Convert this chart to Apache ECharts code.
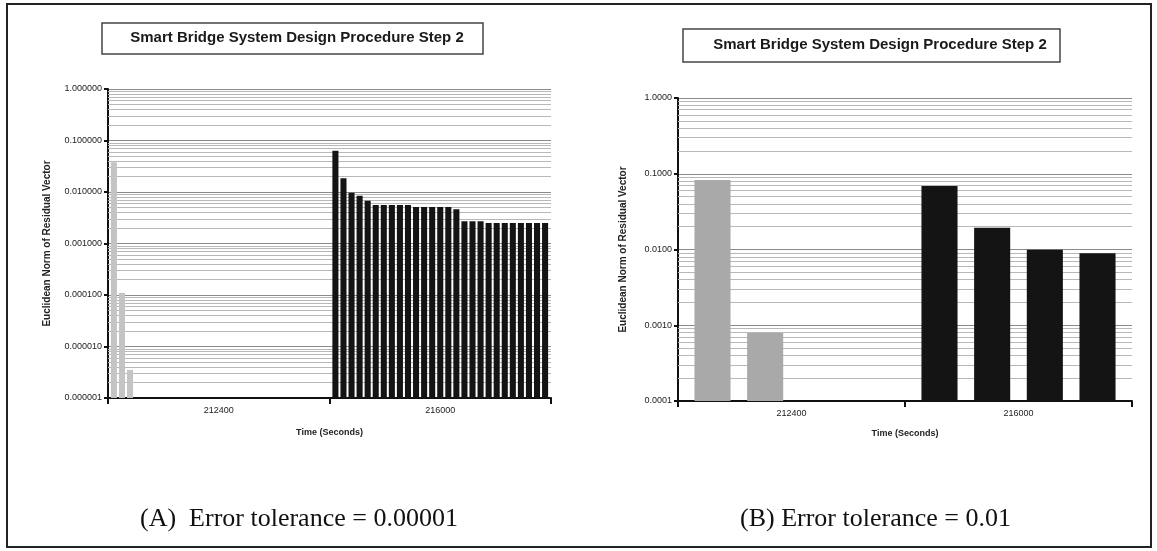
<!DOCTYPE html>
<html>
<head>
<meta charset="utf-8">
<script src="https://cdn.jsdelivr.net/npm/echarts@6/dist/echarts.min.js"></script>
<style>
html,body{margin:0;padding:0;background:#fff;}
#chart{width:1157px;height:551px;}
</style>
</head>
<body>
<div id="chart"></div>
<script>
// ---- data ----
const categories = ['212400', '216000'];
const chartTitle = 'Smart Bridge System Design Procedure Step 2';
const yAxisTitle = 'Euclidean Norm of Residual Vector';
const xAxisTitle = 'Time (Seconds)';
const captionA = '(A)  Error tolerance = 0.00001';
const captionB = '(B) Error tolerance = 0.01';

// chart A (tolerance 0.00001)
const leftGray = [0.038, 0.00011, 0.0000035];
const leftBlack = [0.063, 0.0185, 0.0097, 0.0085, 0.0068, 0.0056, 0.0056, 0.0056, 0.0056, 0.0056,
                   0.0051, 0.0051, 0.0051, 0.0051, 0.0051, 0.0046, 0.0027, 0.0027, 0.0027, 0.0025,
                   0.0025, 0.0025, 0.0025, 0.0025, 0.0025, 0.0025, 0.0025];
const leftTickLabels = ['0.000001', '0.000010', '0.000100', '0.001000', '0.010000', '0.100000', '1.000000'];

// chart B (tolerance 0.01)
const rightGray = [0.083, 0.00079];
const rightBlack = [0.069, 0.0193, 0.0099, 0.0089];
const rightTickLabels = ['0.0001', '0.0010', '0.0100', '0.1000', '1.0000'];

// ---- build ----
const GRAY_A = '#c4c4c4', GRAY_B = '#a9a9a9', BLACK = '#141414';
const scaleA = 1e6, scaleB = 1e4; // axis bottom maps to 1 on a log axis

function minorLines(decades) {
  const out = [];
  for (let d = 0; d < decades; d++) {
    for (let k = 2; k <= 9; k++) out.push({ yAxis: k * Math.pow(10, d) });
  }
  return out;
}

const series = [];
const nA = Math.max(leftGray.length, leftBlack.length);
for (let i = 0; i < nA; i++) {
  const s = {
    type: 'bar', xAxisIndex: 0, yAxisIndex: 0,
    barGap: '33%', barCategoryGap: '2.6%',
    data: [
      i < leftGray.length ? { value: leftGray[i] * scaleA, itemStyle: { color: GRAY_A } } : '-',
      i < leftBlack.length ? { value: leftBlack[i] * scaleA, itemStyle: { color: BLACK } } : '-'
    ]
  };
  if (i === 0) {
    s.markLine = { silent: true, z: 1, symbol: ['none', 'none'], label: { show: false },
      lineStyle: { color: '#b8b8b8', width: 1, type: 'solid' }, animation: false,
      data: minorLines(6) };
  }
  series.push(s);
}
const nB = Math.max(rightGray.length, rightBlack.length);
for (let i = 0; i < nB; i++) {
  const s = {
    type: 'bar', xAxisIndex: 1, yAxisIndex: 1,
    barGap: '46%', barCategoryGap: '14.5%',
    data: [
      i < rightGray.length ? { value: rightGray[i] * scaleB, itemStyle: { color: GRAY_B } } : '-',
      i < rightBlack.length ? { value: rightBlack[i] * scaleB, itemStyle: { color: BLACK } } : '-'
    ]
  };
  if (i === 0) {
    s.markLine = { silent: true, z: 1, symbol: ['none', 'none'], label: { show: false },
      lineStyle: { color: '#b8b8b8', width: 1, type: 'solid' }, animation: false,
      data: minorLines(4) };
  }
  series.push(s);
}

const axisFont = { fontFamily: 'Liberation Sans, Arial, sans-serif', color: '#222' };

function xAxisDef(gridIndex, gap) {
  return {
    type: 'category', gridIndex: gridIndex, data: categories,
    axisLine: { lineStyle: { color: '#111', width: 2 } },
    axisTick: { show: true, interval: 0, alignWithLabel: false, length: 6, lineStyle: { color: '#111', width: 2 } },
    axisLabel: Object.assign({ fontSize: 9, margin: 8 }, axisFont),
    name: xAxisTitle, nameLocation: 'middle', nameGap: gap,
    nameTextStyle: Object.assign({ fontSize: 9, fontWeight: 'bold' }, axisFont),
    splitLine: { show: false }
  };
}
function yAxisDef(gridIndex, max, labels, gap) {
  return {
    type: 'log', logBase: 10, gridIndex: gridIndex, min: 1, max: max, splitNumber: labels.length - 1,
    axisLine: { show: true, lineStyle: { color: '#111', width: 2 } },
    axisTick: { show: true, length: 4, lineStyle: { color: '#111', width: 2 } },
    axisLabel: Object.assign({ fontSize: 9, margin: 6,
      formatter: function (v) { return labels[Math.round(Math.log10(v))]; } }, axisFont),
    splitLine: { show: true, lineStyle: { color: '#8a8a8a', width: 1 } },
    name: yAxisTitle, nameLocation: 'middle', nameRotate: 90, nameGap: gap,
    nameTextStyle: Object.assign({ fontSize: 10, fontWeight: 'bold' }, axisFont)
  };
}

const option = {
  animation: false,
  backgroundColor: '#fff',
  grid: [
    { left: 108, top: 89, width: 443, height: 309, containLabel: false },
    { left: 678, top: 98, width: 454, height: 303, containLabel: false }
  ],
  xAxis: [xAxisDef(0, 30), xAxisDef(1, 28)],
  yAxis: [yAxisDef(0, scaleA, leftTickLabels, 56), yAxisDef(1, scaleB, rightTickLabels, 50)],
  series: series,
  graphic: [
    { type: 'rect', shape: { x: 7, y: 4, width: 1144, height: 543 }, style: { fill: 'none', stroke: '#222', lineWidth: 2 }, z: -1 },
    { type: 'rect', shape: { x: 102, y: 23, width: 381, height: 31 }, style: { fill: '#fff', stroke: '#444', lineWidth: 1.5 } },
    { type: 'text', x: 297, y: 38, style: { text: chartTitle, fill: '#1a1a1a', font: 'bold 15px "Liberation Sans", Arial, sans-serif', align: 'center', verticalAlign: 'middle' } },
    { type: 'rect', shape: { x: 683, y: 29, width: 377, height: 33 }, style: { fill: '#fff', stroke: '#444', lineWidth: 1.5 } },
    { type: 'text', x: 880, y: 45, style: { text: chartTitle, fill: '#1a1a1a', font: 'bold 15px "Liberation Sans", Arial, sans-serif', align: 'center', verticalAlign: 'middle' } },
    { type: 'text', x: 140, y: 519, style: { text: captionA, fill: '#111', font: '26px "Liberation Serif", "Times New Roman", serif', align: 'left', verticalAlign: 'middle' } },
    { type: 'text', x: 740, y: 519, style: { text: captionB, fill: '#111', font: '26px "Liberation Serif", "Times New Roman", serif', align: 'left', verticalAlign: 'middle' } }
  ]
};

const chart = echarts.init(document.getElementById('chart'), null, { renderer: 'canvas' });
chart.setOption(option);
</script>
</body>
</html>
